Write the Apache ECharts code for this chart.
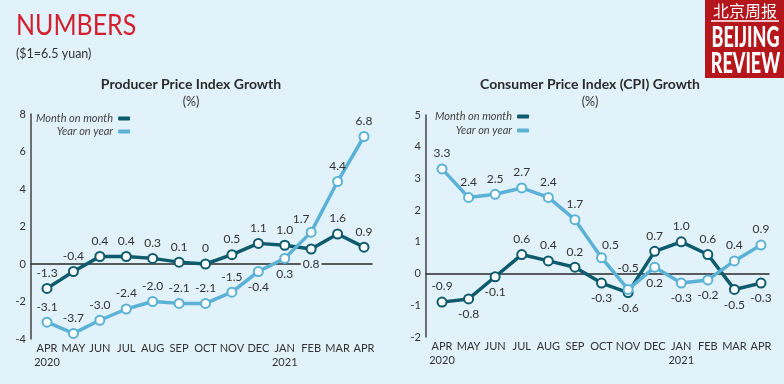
<!DOCTYPE html>
<html><head><meta charset="utf-8">
<script src="https://cdn.jsdelivr.net/npm/echarts@6/dist/echarts.min.js"></script>
<style>html,body{margin:0;padding:0;background:#e1f2fa;}#c{width:784px;height:384px;}</style>
</head><body><div id="c"></div>
<script>
// ---- data ----
var months = ['APR\n2020','MAY','JUN','JUL','AUG','SEP','OCT','NOV','DEC','JAN\n2021','FEB','MAR','APR'];
var ppiMoM = [-1.3,-0.4,0.4,0.4,0.3,0.1,0,0.5,1.1,1.0,0.8,1.6,0.9];
var ppiYoY = [-3.1,-3.7,-3.0,-2.4,-2.0,-2.1,-2.1,-1.5,-0.4,0.3,1.7,4.4,6.8];
var cpiMoM = [-0.9,-0.8,-0.1,0.6,0.4,0.2,-0.3,-0.6,0.7,1.0,0.6,-0.5,-0.3];
var cpiYoY = [3.3,2.4,2.5,2.7,2.4,1.7,0.5,-0.5,0.2,-0.3,-0.2,0.4,0.9];
var ppiTicks = [-4,-2,0,2,4,6,8];
var cpiTicks = [-2,-1,0,1,2,3,4,5];
var seriesNames = ['Month on month','Year on year'];

// label placement (style only)
var ppiMoMPos = ['t','t','t','t','t','t','t','t','t','t','b','t','t'];
var ppiYoYPos = ['t','t','t','t','t','t','t','t','b','b','tl','t','t'];
var cpiMoMPos = ['t','b','b','t','t','t','b','b','t','t','t','b','b'];
var cpiYoYPos = ['t','t','t','t','t','t','tr','tt','b','b','b','t','t'];

var BG = '#e1f2fa', DARK = '#0d5b6d', LIGHT = '#5bb2d6', TXT = '#333';
var FONT = 'Lato';

function fmt(v){ return v === 0 ? '0' : v.toFixed(1); }
function mkData(vals, pos, bgIdx){
  return vals.map(function(v,i){
    var p = pos[i], lab = {position: 'top', distance: 4};
    if (p === 'b') lab = {position: 'bottom', distance: 4};
    if (p === 'tt') lab = {position: 'top', distance: 4, offset: [0, -6]};
    if (p === 'tl') lab = {position: 'top', distance: 2, offset: [-10, 0]};
    if (p === 'tr') lab = {position: 'top', distance: 1, offset: [9, 0]};
    if (bgIdx && bgIdx.indexOf(i) >= 0) { lab.backgroundColor = BG; lab.padding = [0, 2]; }
    return {value: v, label: lab};
  });
}
function lineSeries(name, color, data, xi, yi){
  return {
    name: name, type: 'line', xAxisIndex: xi, yAxisIndex: yi, data: data,
    symbol: 'circle', symbolSize: 9,
    lineStyle: {color: color, width: 3.5},
    itemStyle: {color: '#fff', borderColor: color, borderWidth: 2},
    emphasis: {disabled: true},
    label: {show: true, color: TXT, fontSize: 12, fontFamily: FONT, formatter: function(p){ return fmt(p.value); }},
    animation: false
  };
}

var chart = echarts.init(document.getElementById('c'));
var yLab = {color: TXT, fontSize: 11, fontFamily: FONT, margin: 5};
var xLab = {color: TXT, fontSize: 11, fontFamily: FONT, margin: 2, lineHeight: 14, interval: 0};
var legendText = {fontFamily: FONT, fontStyle: 'italic', fontSize: 11, color: '#444'};
var legendData = [{name: seriesNames[0], itemStyle: {color: DARK, borderWidth: 0}}, {name: seriesNames[1], itemStyle: {color: LIGHT, borderWidth: 0}}];

var option = {
  backgroundColor: BG,
  animation: false,
  title: [
    {text: 'Producer Price Index Growth', subtext: '(%)', left: 191, top: 77, textAlign: 'center', itemGap: 4, padding: 0,
     textStyle: {fontFamily: FONT, fontSize: 14, fontWeight: 'bold', color: '#2b2b2b'},
     subtextStyle: {fontFamily: FONT, fontSize: 12.5, color: '#333'}},
    {text: 'Consumer Price Index (CPI) Growth', subtext: '(%)', left: 590, top: 77, textAlign: 'center', itemGap: 4, padding: 0,
     textStyle: {fontFamily: FONT, fontSize: 14, fontWeight: 'bold', color: '#2b2b2b'},
     subtextStyle: {fontFamily: FONT, fontSize: 12.5, color: '#333'}}
  ],
  legend: [
    {orient: 'vertical', left: 36, top: 113, padding: 0, align: 'right', itemWidth: 12, itemHeight: 4, itemGap: 2, icon: 'roundRect',
     textStyle: legendText, data: legendData},
    {orient: 'vertical', left: 435, top: 111, padding: 0, align: 'right', itemWidth: 12, itemHeight: 4, itemGap: 3, icon: 'roundRect',
     textStyle: legendText, data: legendData}
  ],
  grid: [
    {left: 31, right: 412, top: 114, bottom: 45},
    {left: 47, right: 420, top: 114, bottom: 45},
    {left: 426, right: 15, top: 115, bottom: 47},
    {left: 442, right: 23, top: 115, bottom: 47}
  ],
  xAxis: [
    {gridIndex: 0, type: 'value', min: 0, max: 1, axisLine: {show: true, onZero: true, lineStyle: {color: '#2a2a2a', width: 1.5}}, axisTick: {show: false}, axisLabel: {show: false}, splitLine: {show: false}},
    {gridIndex: 1, type: 'category', data: months, boundaryGap: false, axisLine: {show: false}, axisTick: {show: false}, axisLabel: xLab, splitLine: {show: false}},
    {gridIndex: 2, type: 'value', min: 0, max: 1, axisLine: {show: true, onZero: true, lineStyle: {color: '#2a2a2a', width: 1.5}}, axisTick: {show: false}, axisLabel: {show: false}, splitLine: {show: false}},
    {gridIndex: 3, type: 'category', data: months, boundaryGap: false, axisLine: {show: false}, axisTick: {show: false}, axisLabel: xLab, splitLine: {show: false}}
  ],
  yAxis: [
    {gridIndex: 0, type: 'value', min: ppiTicks[0], max: ppiTicks[ppiTicks.length-1], interval: 2, axisLine: {show: true, lineStyle: {color: '#444', width: 1.5}}, axisTick: {show: false}, axisLabel: yLab, splitLine: {show: false}},
    {gridIndex: 1, type: 'value', min: ppiTicks[0], max: ppiTicks[ppiTicks.length-1], show: false},
    {gridIndex: 2, type: 'value', min: cpiTicks[0], max: cpiTicks[cpiTicks.length-1], interval: 1, axisLine: {show: true, lineStyle: {color: '#444', width: 1.5}}, axisTick: {show: false}, axisLabel: yLab, splitLine: {show: false}},
    {gridIndex: 3, type: 'value', min: cpiTicks[0], max: cpiTicks[cpiTicks.length-1], show: false}
  ],
  series: [
    lineSeries(seriesNames[0], DARK, mkData(ppiMoM, ppiMoMPos, [0, 10]), 1, 1),
    lineSeries(seriesNames[1], LIGHT, mkData(ppiYoY, ppiYoYPos), 1, 1),
    lineSeries(seriesNames[0], DARK, mkData(cpiMoM, cpiMoMPos), 3, 3),
    lineSeries(seriesNames[1], LIGHT, mkData(cpiYoY, cpiYoYPos), 3, 3)
  ],
  graphic: [
    {type: 'text', x: 16, y: 25.5, scaleX: 0.86, style: {text: 'NUMBERS', fill: '#d3202e', align: 'left', verticalAlign: 'middle', font: '29px Lato, sans-serif'}},
    {type: 'text', x: 16, y: 54, style: {text: '($1=6.5 yuan)', fill: '#333', align: 'left', verticalAlign: 'middle', font: '12.5px Lato, sans-serif'}},
    {type: 'rect', shape: {x: 705, y: 0, width: 79, height: 78}, style: {fill: '#b5161c'}},
    {type: 'text', x: 745, y: 11, style: {text: '北京周报', fill: '#fff', align: 'center', verticalAlign: 'middle', font: '16px "Noto Sans CJK SC"'}},
    {type: 'line', shape: {x1: 711, y1: 21, x2: 779, y2: 21}, style: {stroke: '#fff', lineWidth: 1.5}},
    {type: 'text', x: 745.5, y: 38, scaleX: 0.62, style: {text: 'BEIJING', fill: '#fff', align: 'center', verticalAlign: 'middle', font: '900 29px Lato, sans-serif'}},
    {type: 'text', x: 745.5, y: 64, scaleX: 0.62, style: {text: 'REVIEW', fill: '#fff', align: 'center', verticalAlign: 'middle', font: '900 29px Lato, sans-serif'}}
  ]
};
chart.setOption(option);
</script>
</body></html>
